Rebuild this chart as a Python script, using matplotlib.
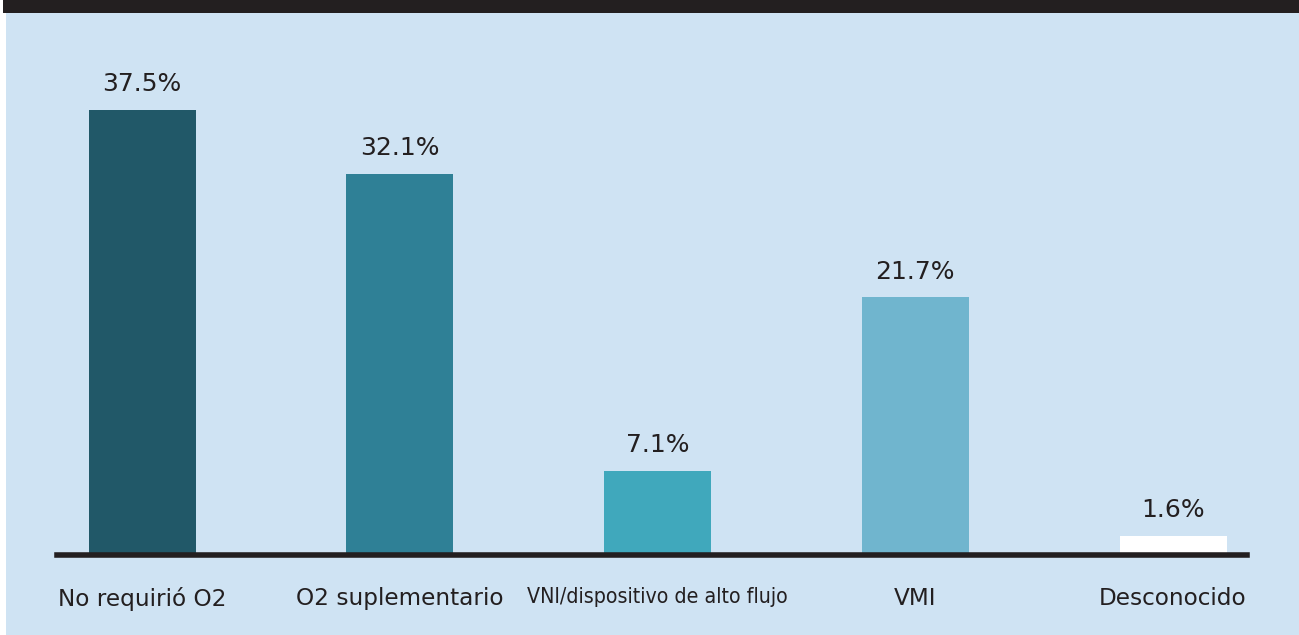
import matplotlib.pyplot as plt
from matplotlib.patches import Rectangle

categories = ["No requirió O2", "O2 suplementario", "VNI/dispositivo de alto flujo", "VMI", "Desconocido"]
values = [37.5, 32.1, 7.1, 21.7, 1.6]
value_labels = ["37.5%", "32.1%", "7.1%", "21.7%", "1.6%"]
colors = ["#215868", "#2F8096", "#40A8BC", "#70B5CE", "#FFFFFF"]

W, H = 1299, 635
fig = plt.figure(figsize=(W / 100, H / 100), dpi=100)
fig.patch.set_facecolor("white")

# background panel and dark header band
fig.patches.append(Rectangle((6 / W, 0), 1 - 6 / W, 1 - 13 / H, transform=fig.transFigure,
                             facecolor="#CFE3F3", edgecolor="none", zorder=-2))
fig.patches.append(Rectangle((3 / W, 1 - 13 / H), 1 - 3 / W, 13 / H, transform=fig.transFigure,
                             facecolor="#231F20", edgecolor="none", zorder=-2))

ax = fig.add_axes([57 / W, (H - 555) / H, 1190 / W, (555 - 13) / H])
ax.set_zorder(2)
ax.set_facecolor("none")
x = list(range(len(categories)))
ax.bar(x, values, width=0.415, color=colors, zorder=2)
ax.set_xlim(-0.33, 4.287)
ax.set_ylim(0, 542 / 11.87)

for xi, v, lab in zip(x, values, value_labels):
    ax.annotate(lab, (xi, v), xytext=(0, 10), textcoords="offset points",
                ha="center", va="bottom", fontsize=18, color="#231F20",
                fontfamily="DejaVu Sans")

ax.set_xticks(x)
ax.set_xticklabels(categories, fontsize=16.7, color="#231F20")
for t in ax.get_xticklabels():
    if t.get_text().startswith("VNI"):
        # narrow face in the original
        t.set_fontstretch("condensed")
        t.set_fontsize(15.3)
ax.tick_params(axis="x", length=0, pad=23)
ax.set_yticks([])
for s in ["top", "left", "right"]:
    ax.spines[s].set_visible(False)
ax.spines["bottom"].set_linewidth(4)
ax.spines["bottom"].set_color("#231F20")
ax.spines["bottom"].set_zorder(3)

fig.savefig("out.png", dpi=100)
